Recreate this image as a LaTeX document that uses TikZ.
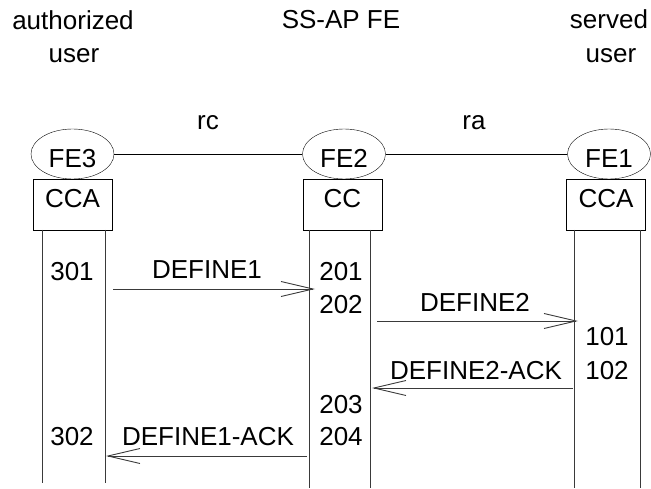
\documentclass[tikz,border=0pt]{standalone}
\usepackage{fontspec}
\setmainfont{Liberation Sans}
\usepackage{tikz}
\usetikzlibrary{arrows.meta,shapes.geometric}
\definecolor{msgline}{HTML}{3A3A3A}
\tikzset{
  fe/.style={ellipse,draw,minimum width=83pt,minimum height=50pt,inner sep=0pt,text height=27pt,text depth=0pt},
  entity/.style={rectangle,draw,minimum width=79pt,minimum height=51pt,inner sep=0pt,text height=19pt,text depth=12pt},
  lbl/.style={inner sep=0pt,anchor=base},
  life/.style={draw=msgline,line width=0.9pt},
  link/.style={draw,line width=0.9pt},
  msg/.style={-{Straight Barb[length=32pt,width=15pt]},draw=msgline,line width=0.9pt}
}

\begin{document}
\begin{tikzpicture}[x=1pt,y=-1pt,font=\fontsize{26}{31}\selectfont]
\useasboundingbox (0,0) rectangle (651,489);
\node[lbl] (auth) at (73,30) {authorized};
\node[lbl] (authu) at (74,63) {user};
\node[lbl] (ssap) at (341,29) {SS-AP FE};
\node[lbl] (serv) at (609,29) {served};
\node[lbl] (servu) at (611,63) {user};
\node[lbl] (rc) at (208,130) {rc};
\node[lbl] (ra) at (474,130) {ra};
\node[fe] (fe3) at (72.5,154) {FE3};
\node[fe] (fe2) at (344,154) {FE2};
\node[fe] (fe1) at (609,154) {FE1};
\node[entity] (cca3) at (72.5,204.5) {CCA};
\node[entity] (cc2) at (342.5,204.5) {CC};
\node[entity] (cca1) at (606,204.5) {CCA};
\draw[link] (fe3) -- (fe2);
\draw[link] (fe2) -- (fe1);
\foreach \x/\y in {42/483,105/483,309/488,370/488,574/488,640/488}
  \draw[life] (\x,230) -- (\x,\y);
\node[lbl] (n301) at (72,280) {301};
\node[lbl] (n302) at (72,445) {302};
\node[lbl] (n201) at (341,280) {201};
\node[lbl] (n202) at (341,313) {202};
\node[lbl] (n203) at (341,413) {203};
\node[lbl] (n204) at (341,445) {204};
\node[lbl] (n101) at (607,345) {101};
\node[lbl] (n102) at (607,379) {102};
\coordinate (d1s) at (113,289);
\coordinate (d1e) at (315,289);
\coordinate (d2s) at (377,321);
\coordinate (d2e) at (578,321);
\coordinate (a2s) at (573,388);
\coordinate (a2e) at (372,388);
\coordinate (a1s) at (307,456);
\coordinate (a1e) at (106,456);
\draw[msg] (d1s) -- (d1e);
\draw[msg] (d2s) -- (d2e);
\draw[msg] (a2s) -- (a2e);
\draw[msg] (a1s) -- (a1e);
\node[lbl] (def1) at (207,279) {DEFINE1};
\node[lbl] (def2) at (475,312) {DEFINE2};
\node[lbl] (ack2) at (476,379) {DEFINE2-ACK};
\node[lbl] (ack1) at (208,445) {DEFINE1-ACK};
\end{tikzpicture}
\end{document}
